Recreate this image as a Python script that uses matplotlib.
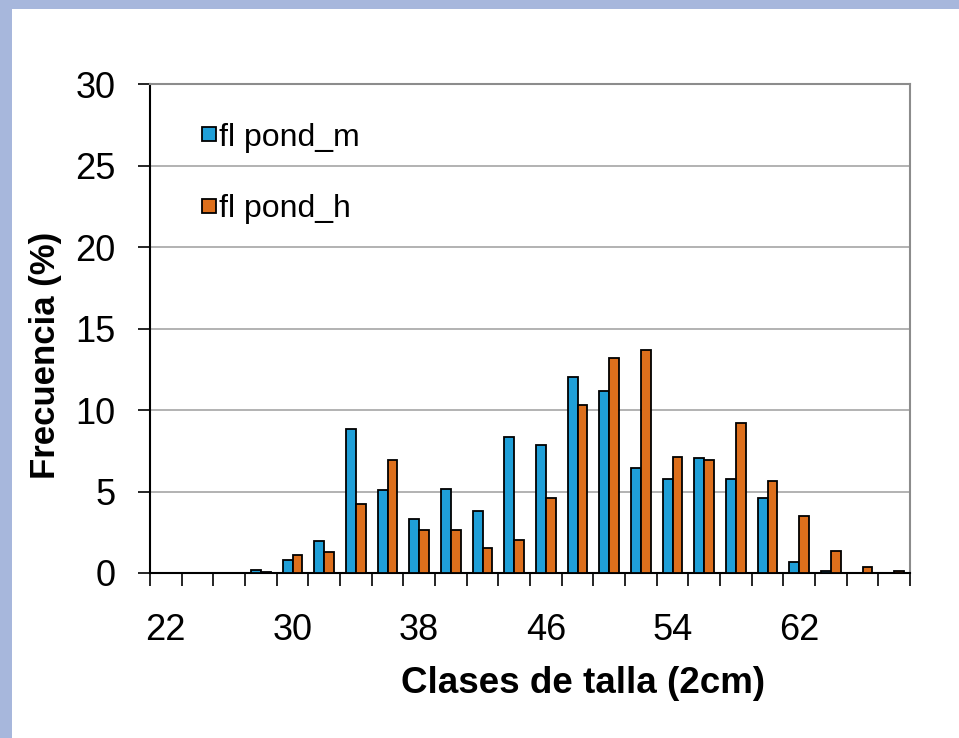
import matplotlib
matplotlib.use("Agg")
import matplotlib.pyplot as plt
from matplotlib.patches import Rectangle
import numpy as np

# Data
size_classes = [22, 24, 26, 28, 30, 32, 34, 36, 38, 40, 42, 44,
                46, 48, 50, 52, 54, 56, 58, 60, 62, 64, 66, 68]
fl_pond_m = [0, 0, 0, 0.2, 0.77, 1.96, 8.84, 5.08, 3.3, 5.18, 3.81, 8.33,
             7.86, 12.04, 11.16, 6.47, 5.77, 7.04, 5.77, 4.59, 0.67, 0.1, 0, 0]
fl_pond_h = [0, 0, 0, 0.08, 1.08, 1.26, 4.22, 6.96, 2.63, 2.63, 1.55, 2.04,
             4.59, 10.29, 13.22, 13.71, 7.14, 6.94, 9.2, 5.67, 3.51, 1.35, 0.39, 0.1]
series_labels = ["fl pond_m", "fl pond_h"]
y_ticks = [0, 5, 10, 15, 20, 25, 30]
x_label_every = 4

plt.rcParams['font.family'] = ['Liberation Sans', 'DejaVu Sans']

W, H = 959, 738
fig = plt.figure(figsize=(W / 100, H / 100), dpi=100)
fig.patch.set_facecolor('#a7b7dc')
fig.patches.append(Rectangle((12 / W, 0), 1, 1 - 9 / H, transform=fig.transFigure,
                             facecolor='white', edgecolor='none', zorder=-10))

ax = fig.add_axes([150 / W, 1 - 573 / H, 760 / W, (573 - 84.3) / H])
ax.set_facecolor('white')

x = np.arange(len(size_classes))
bw = 0.31
b1 = ax.bar(x - bw / 2, fl_pond_m, width=bw, color='#1f9fd8', edgecolor='black',
            linewidth=1.3, label=series_labels[0], zorder=3)
b2 = ax.bar(x + bw / 2, fl_pond_h, width=bw, color='#dd6f1c', edgecolor='black',
            linewidth=1.3, label=series_labels[1], zorder=3)

ax.set_xlim(-0.5, len(size_classes) - 0.5)
ax.set_ylim(0, 30)

# y axis
ax.set_yticks(y_ticks)
ax.set_yticklabels([str(v) for v in y_ticks], fontsize=26)
ax.tick_params(axis='y', direction='out', length=9, width=1.2, color='black', pad=16)
ax.yaxis.grid(True, color='#a6a6a6', linewidth=1.2, zorder=0)
ax.set_axisbelow(True)

# x axis: ticks at class boundaries, labels at every 4th class center
ax.set_xticks(np.arange(-0.5, len(size_classes), 1.0))
ax.set_xticklabels([])
ax.tick_params(axis='x', which='major', direction='out', length=9, width=1.2, color='black')
lab_pos = x[::x_label_every]
ax.set_xticks(lab_pos, minor=True)
ax.set_xticklabels([str(size_classes[i]) for i in lab_pos], minor=True, fontsize=26)
ax.tick_params(axis='x', which='minor', length=0, pad=29)

for s in ['left', 'bottom']:
    ax.spines[s].set_color('black')
    ax.spines[s].set_linewidth(1.5)
for s in ['top', 'right']:
    ax.spines[s].set_color('#8c8c8c')
    ax.spines[s].set_linewidth(1.5)

ax.set_ylabel("Frecuencia (%)", fontsize=25, fontweight='bold')
ax.yaxis.set_label_coords(-0.116, 0.446)
ax.set_xlabel("Clases de talla (2cm)", fontsize=26.5, fontweight='bold')
ax.xaxis.set_label_coords(0.57, -0.19)

ax.legend(handles=[b1, b2], loc='upper left', bbox_to_anchor=(0.068, 0.921),
          frameon=False, fontsize=23, handlelength=0.45, handleheight=0.3,
          handletextpad=0.08, labelspacing=1.3, borderpad=0, borderaxespad=0)

fig.savefig("out.png", dpi=100, facecolor=fig.get_facecolor())
